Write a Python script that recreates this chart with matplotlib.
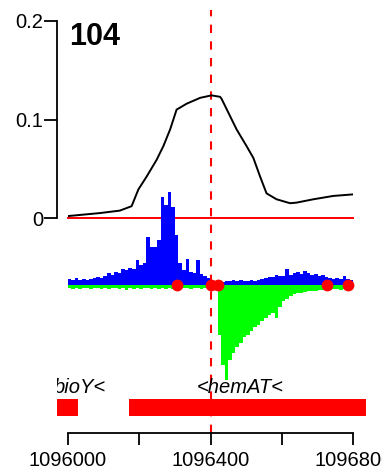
import matplotlib
matplotlib.use("Agg")
import matplotlib.pyplot as plt
import numpy as np

plt.rcParams['font.family'] = ['Liberation Sans', 'DejaVu Sans']

# ---- data ----
start = 1096000
end = 1096800
title = "104"

# smoothed profile (black line)
prof_pos = [2, 90, 146, 179, 198, 221, 249, 268, 287, 305, 333, 371, 403, 427,
            431, 450, 473, 501, 520, 539, 557, 585, 623, 641, 688, 744, 800]
prof_val = [0.002, 0.005, 0.0075, 0.012, 0.029, 0.042, 0.059, 0.073, 0.090, 0.110,
            0.116, 0.122, 0.1245, 0.123, 0.121, 0.107, 0.090, 0.073, 0.061, 0.042,
            0.025, 0.019, 0.015, 0.0156, 0.019, 0.0224, 0.024]

# coverage in 10-bp bins (plus strand blue, minus strand green)
bin_width = 10
plus_cov = [6, 5, 7, 5, 6, 5, 6, 7, 8, 7,
            9, 12, 10, 13, 12, 16, 15, 17, 16, 25,
            20, 22, 48, 38, 38, 45, 88, 80, 93, 78,
            50, 22, 15, 26, 13, 12, 25, 11, 9, 7,
            5, 3, 4, 3, 4, 4, 5, 4, 5, 4,
            4, 5, 4, 5, 6, 7, 8, 8, 10, 9,
            9, 16, 10, 12, 13, 11, 14, 12, 10, 11,
            9, 10, 8, 7, 6, 7, 6, 9, 6, 5]
minus_cov = [3, 4, 3, 4, 3, 3, 4, 3, 3, 4,
             3, 4, 3, 3, 4, 3, 5, 3, 4, 3,
             4, 3, 3, 4, 3, 4, 3, 4, 3, 4,
             3, 4, 3, 3, 4, 3, 3, 4, 3, 3,
             3, 4, 50, 80, 95, 75, 68, 62, 58, 52,
             50, 46, 42, 40, 36, 33, 30, 28, 33, 22,
             16, 14, 11, 9, 8, 8, 7, 6, 6, 6,
             5, 5, 4, 5, 4, 4, 5, 4, 4, 4]

# TSS / site positions
site_pos = [1096305, 1096400, 1096422, 1096727, 1096786]
ref_pos = 1096400

# genes
gene_names = ["bioY<", "<hemAT<"]
gene_start = [1095900, 1096171]
gene_end = [1096028, 1096900]
gene_label_x = [1096108, 1096484]

xticks = [1096000, 1096200, 1096400, 1096600, 1096800]
xticklabels = ["1096000", "", "1096400", "", "1096800"]
yticks = [0, 0.1, 0.2]
yticklabels = ["0", "0.1", "0.2"]

# ---- figure ----
W, H = 382, 471
fig = plt.figure(figsize=(W / 100, H / 100), dpi=100)

def fx(px):
    return px / W

def fy(py):
    return (H - py) / H

xl, xr = 67.7, 353.3
ppb = (xr - xl) / (end - start)

# main profile axes
ax = fig.add_axes([fx(xl), fy(218), fx(xr - xl), (218 - 21) / H])
ax.set_facecolor('none')
ax.set_xlim(start, end)
ax.set_ylim(0, 0.2)
ax.plot([start + p for p in prof_pos], prof_val, color='black', lw=1.4,
        solid_joinstyle='round', zorder=3)
ax.plot([start, end], [0, 0], color='red', lw=1.4, zorder=2, clip_on=False)
for s in ['top', 'right', 'bottom']:
    ax.spines[s].set_visible(False)
ax.spines['left'].set_position(('outward', 7.5))
ax.spines['left'].set_linewidth(1.3)
ax.spines['left'].set_bounds(0, 0.2)
ax.set_xticks([])
ax.set_yticks(yticks)
ax.set_yticklabels(yticklabels)
ax.tick_params(axis='y', length=9.5, width=1.3, pad=0.5, labelsize=14.5)
ax.axvline(ref_pos, ymin=(218 - 433) / 197, ymax=(218 - 10) / 197,
           color='red', lw=1.5, ls=(0, (4, 4)), clip_on=False, zorder=1)

# coverage axes
cax = fig.add_axes([fx(xl), fy(385), fx(xr - xl), 200 / H])
cax.set_facecolor('none')
cax.set_xlim(start, end)
cax.set_ylim(-100, 100)
bins = [start + bin_width * i for i in range(len(plus_cov))]
cax.bar(bins, plus_cov, width=bin_width, align='edge', color='#0000ff', lw=0)
cax.bar(bins, [-v for v in minus_cov], width=bin_width, align='edge',
        color='#00ff00', lw=0)
cax.plot(site_pos, [0] * len(site_pos), 'o', color='red', ms=8.5, mew=0,
         zorder=5, clip_on=False)
cax.axis('off')

# gene axes
gl, gr = 57, 365
gax = fig.add_axes([fx(gl), fy(420), fx(gr - gl), 50 / H])
gax.set_facecolor('none')
gax.set_xlim(start - (xl - gl) / ppb, start + (gr - xl) / ppb)
gax.set_ylim(0, 1)
for s, e in zip(gene_start, gene_end):
    gax.fill_between([s, e], (420 - 415.7) / 50, (420 - 399) / 50,
                     color='red', lw=0)
for name, lx in zip(gene_names, gene_label_x):
    ha = 'right' if name == "bioY<" else 'center'
    gax.text(lx, (420 - 392.7) / 50, name, style='italic', fontsize=14.5,
             ha=ha, va='baseline', clip_on=True)
gax.axis('off')

# bottom x axis
bax = fig.add_axes([fx(xl), fy(433.3), fx(xr - xl), 0.001])
bax.set_facecolor('none')
bax.set_xlim(start, end)
for s in ['top', 'right', 'left']:
    bax.spines[s].set_visible(False)
bax.spines['bottom'].set_linewidth(1.3)
bax.set_yticks([])
bax.set_xticks(xticks)
bax.set_xticklabels(xticklabels)
bax.tick_params(axis='x', length=8.6, width=1.3, pad=4.5, labelsize=14.5)

fig.text(fx(69), fy(45), title, fontsize=22, fontweight='bold',
         ha='left', va='baseline')

fig.savefig("out.png", dpi=100)
